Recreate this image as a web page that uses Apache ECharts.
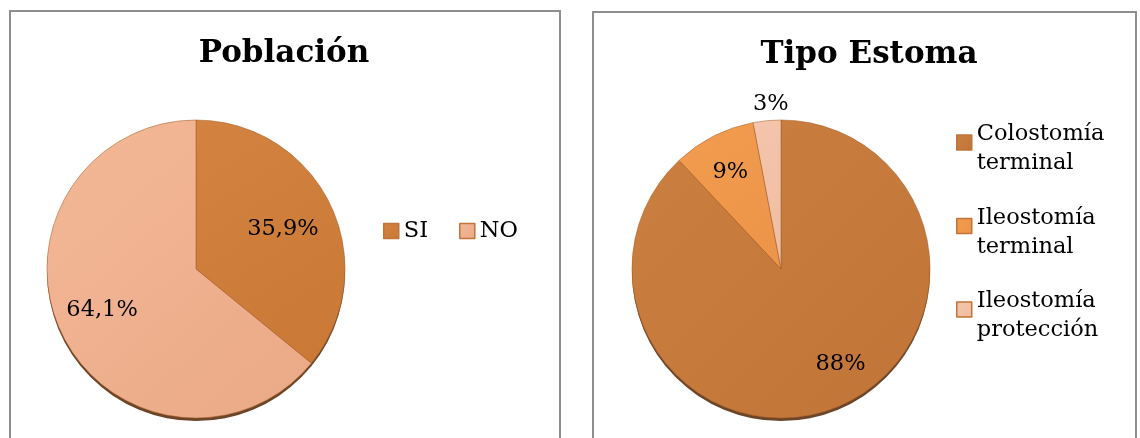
<!DOCTYPE html>
<html>
<head>
<meta charset="utf-8">
<script src="https://cdn.jsdelivr.net/npm/echarts@6/dist/echarts.min.js"></script>
<style>
  html, body { margin: 0; padding: 0; width: 1140px; height: 438px; overflow: hidden; background: #ffffff; }
  .panel { position: absolute; box-sizing: border-box; border: 2px solid #8e8e8e; background: #fff; }
  #p1 { left: 9px; top: 10px; width: 552px; height: 470px; }
  #p2 { left: 592px; top: 11px; width: 545px; height: 470px; }
  .chart { width: 100%; height: 100%; }
</style>
</head>
<body>
<div class="panel" id="p1"><div class="chart" id="c1"></div></div>
<div class="panel" id="p2"><div class="chart" id="c2"></div></div>
<script>
// ---- data ----
const poblacionTitle = 'Población';
const poblacionCats = ['SI', 'NO'];
const poblacionVals = [35.9, 64.1];
const poblacionLabels = ['35,9%', '64,1%'];
const poblacionColors = [['#D3833F', '#C97836'], ['#F4B897', '#EAA987']];

const estomaTitle = 'Tipo Estoma';
const estomaCats = ['Colostomía\nterminal', 'Ileostomía\nterminal', 'Ileostomía\nprotección'];
const estomaVals = [88, 9, 3];
const estomaLabels = ['88%', '9%', '3%'];
const estomaColors = [['#CB7F40', '#C07437'], ['#F29C50', '#EC9448'], ['#F4C5AB', '#EFBCA0']];

const FONT = '"DejaVu Serif", serif';

function grad(c) {
  return new echarts.graphic.LinearGradient(0, 0, 1, 1, [
    { offset: 0, color: c[0] }, { offset: 1, color: c[1] }
  ]);
}

// label nudge: [dx, dy] in px (dx>0 right, dy>0 down)
function labelFor(txt, shift) {
  const dx = shift[0], dy = shift[1];
  let fmt;
  if (dy < 0) fmt = '{t|' + txt + '}\n{e| }';
  else if (dy > 0) fmt = '{e| }\n{t|' + txt + '}';
  else fmt = '{t|' + txt + '}';
  return {
    formatter: fmt,
    padding: [0, dx < 0 ? -2 * dx : 0, 0, dx > 0 ? 2 * dx : 0],
    rich: {
      t: { fontFamily: FONT, fontSize: 22.5, lineHeight: 27, color: '#000' },
      e: { fontSize: 1, lineHeight: Math.max(1, 2 * Math.abs(dy)), height: Math.max(1, 2 * Math.abs(dy)) }
    }
  };
}

function buildOption(cfg) {
  const R = 149;
  const pieData = cfg.cats.map((n, i) => ({
    name: n, value: cfg.vals[i],
    itemStyle: { color: grad(cfg.colors[i]) }
  }));
  const labelData = cfg.cats.map((n, i) => ({
    name: n, value: cfg.vals[i],
    label: labelFor(cfg.labels[i], cfg.labelShift[i])
  }));
  const total = cfg.vals.reduce((a, b) => a + b, 0);
  return {
    animation: false,
    title: {
      text: cfg.title,
      left: cfg.titleX, top: 42, padding: 0,
      textAlign: 'center', textVerticalAlign: 'middle',
      textStyle: { fontFamily: FONT, fontWeight: 'bold', fontSize: 31, color: '#000' }
    },
    legend: cfg.legend,
    series: [
      {
        type: 'pie', name: 'shadow', silent: true, z: 1,
        radius: R, center: [cfg.cx, cfg.cy + 3],
        startAngle: 90, label: { show: false }, labelLine: { show: false },
        itemStyle: { color: '#6B4527' },
        emphasis: { disabled: true },
        data: [{ name: '_sombra', value: total }]
      },
      {
        type: 'pie', name: cfg.title, z: 2,
        radius: R, center: [cfg.cx, cfg.cy],
        startAngle: 90, clockwise: true,
        itemStyle: { borderColor: 'rgba(170,95,40,0.55)', borderWidth: 1 },
        label: { show: false }, labelLine: { show: false },
        emphasis: { disabled: true },
        data: pieData
      },
      {
        type: 'pie', name: cfg.title + ' etiquetas', silent: true, z: 3,
        radius: R * 1.4, center: [cfg.cx, cfg.cy],
        startAngle: 90, clockwise: true, avoidLabelOverlap: false,
        itemStyle: { color: 'rgba(0,0,0,0)' },
        labelLine: { show: false },
        emphasis: { disabled: true },
        label: { show: true, position: 'inside', fontFamily: FONT, fontSize: 22.5, color: '#000' },
        data: labelData
      }
    ]
  };
}

function legendFormatter(name) {
  return '{e| }\n{a|' + name.split('\n').join('}\n{a|') + '}';
}

const c1 = echarts.init(document.getElementById('c1'), null, { renderer: 'canvas' });
c1.setOption(buildOption({
  title: poblacionTitle, titleX: 273, cx: 185, cy: 257,
  cats: poblacionCats, vals: poblacionVals, labels: poblacionLabels, colors: poblacionColors,
  labelShift: [[-10, 6], [3, -5]],
  legend: {
    data: poblacionCats, orient: 'horizontal', left: 372, top: 205, padding: 0,
    itemWidth: 15, itemHeight: 15, itemGap: 31, icon: 'rect', selectedMode: false,
    itemStyle: { borderColor: '#C0743A', borderWidth: 1.5 },
    textStyle: { fontFamily: FONT, fontSize: 22.5, color: '#000', lineHeight: 28 }
  }
}));

const c2 = echarts.init(document.getElementById('c2'), null, { renderer: 'canvas' });
c2.setOption(buildOption({
  title: estomaTitle, titleX: 275, cx: 187, cy: 256,
  cats: estomaCats, vals: estomaVals, labels: estomaLabels, colors: estomaColors,
  labelShift: [[20, -5], [-2, -1], [0, -58]],
  legend: {
    data: estomaCats, orient: 'vertical', left: 362, top: 94, padding: 0,
    itemWidth: 15, itemHeight: 15, itemGap: 15.5, icon: 'rect', selectedMode: false,
    itemStyle: { borderColor: '#C0743A', borderWidth: 1.5 },
    formatter: legendFormatter,
    textStyle: {
      fontFamily: FONT, fontSize: 22.5, color: '#000',
      rich: {
        a: { fontFamily: FONT, fontSize: 22.5, lineHeight: 29, color: '#000' },
        e: { fontSize: 1, lineHeight: 13, height: 13 }
      }
    }
  }
}));
</script>
</body>
</html>
